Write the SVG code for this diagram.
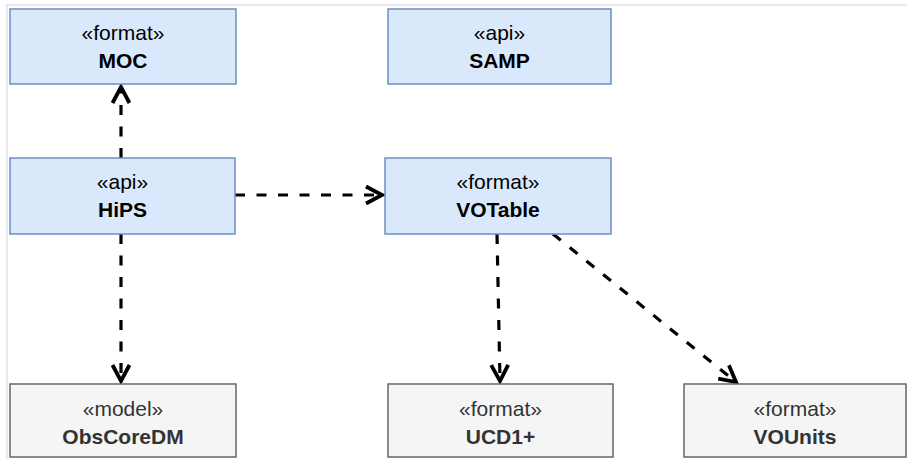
<svg xmlns="http://www.w3.org/2000/svg" width="907" height="459" viewBox="0 0 907 459">
  <style>
    .blue { fill: #dae8fc; stroke: #6c8ebf; stroke-width: 1.5; }
    .gray { fill: #f5f5f5; stroke: #666666; stroke-width: 1.5; }
    .st { font-family: "Liberation Sans", Arial, sans-serif; font-size: 21px; text-anchor: middle; }
    .nm { font-family: "Liberation Sans", Arial, sans-serif; font-size: 21px; font-weight: bold; text-anchor: middle; }
    .dk { fill: #000000; }
    .gt { fill: #333333; }
    .edge { fill: none; stroke: #000000; stroke-width: 3.2; stroke-dasharray: 10 11.5; }
  </style>
  <defs>
    <marker id="open" markerUnits="userSpaceOnUse" markerWidth="26" markerHeight="26" viewBox="0 0 26 26" refX="20" refY="13" orient="auto">
      <path d="M4,4.5 L20,13 L4,21.5" fill="none" stroke="#000000" stroke-width="3.8" stroke-dasharray="none" stroke-linejoin="miter"/>
    </marker>
  </defs>
  <rect x="0" y="0" width="907" height="459" fill="#ffffff"/>
  <path d="M7,459 L7,5 L907,5" fill="none" stroke="#e2e2e2" stroke-width="1.5"/>

  <g id="connectors">
    <path class="edge" d="M121,158 L121,87" marker-end="url(#open)"/>
    <path class="edge" d="M235,195 L382,195" marker-end="url(#open)"/>
    <path class="edge" d="M121,234 L121,381" marker-end="url(#open)"/>
    <path class="edge" d="M497,234 L500,381" marker-end="url(#open)"/>
    <path class="edge" d="M553,234 L736,382" marker-end="url(#open)"/>
  </g>

  <g id="moc">
    <rect class="blue" x="10" y="9" width="226" height="75"/>
    <text class="st dk" x="123" y="40">«format»</text>
    <text class="nm dk" x="123" y="68">MOC</text>
  </g>
  <g id="samp">
    <rect class="blue" x="388" y="9" width="223" height="75"/>
    <text class="st dk" x="499.5" y="40">«api»</text>
    <text class="nm dk" x="499.5" y="68">SAMP</text>
  </g>
  <g id="hips">
    <rect class="blue" x="10" y="158" width="225" height="76"/>
    <text class="st dk" x="122.5" y="189">«api»</text>
    <text class="nm dk" x="122.5" y="217">HiPS</text>
  </g>
  <g id="votable">
    <rect class="blue" x="385" y="158" width="226" height="76"/>
    <text class="st dk" x="498" y="189">«format»</text>
    <text class="nm dk" x="498" y="217">VOTable</text>
  </g>
  <g id="obscoredm">
    <rect class="gray" x="10" y="384" width="226" height="73"/>
    <text class="st gt" x="123" y="416">«model»</text>
    <text class="nm gt" x="123" y="444">ObsCoreDM</text>
  </g>
  <g id="ucd1plus">
    <rect class="gray" x="388" y="384" width="225" height="73"/>
    <text class="st gt" x="500.5" y="416">«format»</text>
    <text class="nm gt" x="500.5" y="444">UCD1+</text>
  </g>
  <g id="vounits">
    <rect class="gray" x="684" y="384" width="222" height="73"/>
    <text class="st gt" x="795" y="416">«format»</text>
    <text class="nm gt" x="795" y="444">VOUnits</text>
  </g>
</svg>
